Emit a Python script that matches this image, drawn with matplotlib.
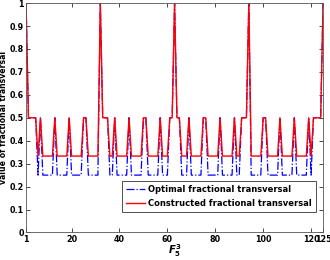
import matplotlib
matplotlib.use("Agg")
import matplotlib.pyplot as plt

# points of F_5^3, indexed 1..125
points = list(range(1, 126))

# constructed fractional transversal (red)
constructed = [
    1, .5, .5, .5, .5, .333, .5, .333, .333, .333,
    .333, .333, .5, .333, .333, .333, .333, .333, .5, .333,
    .333, .333, .333, .333, .5, .5, .333, .333, .333, .333,
    .333, 1, .5, .5, .5, .333, .333, .5, .333, .333,
    .333, .333, .333, .5, .333, .333, .333, .333, .333, .5,
    .5, .333, .333, .333, .333, .333, .5, .333, .333, .333,
    .5, .5, 1, .5, .5, .333, .333, .333, .5, .333,
    .333, .333, .333, .333, .5, .5, .333, .333, .333, .333,
    .333, .5, .333, .333, .333, .333, .333, .5, .333, .333,
    .5, .5, .5, 1, .333, .333, .333, .333, .333, .5,
    .5, .333, .333, .333, .333, .333, .5, .333, .333, .333,
    .333, .333, .5, .333, .333, .333, .333, .333, .5, .333,
    .5, .5, .5, .5, 1,
]

# optimal fractional transversal (blue)
optimal = [
    1, .5, .5, .5, .5, .25, .5, .25, .25, .25,
    .25, .25, .5, .25, .25, .25, .25, .25, .5, .25,
    .25, .25, .25, .25, .5, .5, .25, .25, .25, .25,
    .25, 1, .5, .5, .5, .25, .25, .5, .25, .25,
    .25, .25, .25, .5, .25, .25, .25, .25, .25, .5,
    .5, .25, .25, .25, .25, .25, .5, .25, .25, .25,
    .5, .5, 1, .5, .5, .25, .25, .25, .5, .25,
    .25, .25, .25, .25, .5, .5, .25, .25, .25, .25,
    .25, .5, .25, .25, .25, .25, .25, .5, .25, .25,
    .5, .5, .5, 1, .25, .25, .25, .25, .25, .5,
    .5, .25, .25, .25, .25, .25, .5, .25, .25, .25,
    .25, .25, .5, .25, .25, .25, .25, .25, .5, .25,
    .5, .5, .5, .5, 1,
]

xticks = [1, 20, 40, 60, 80, 100, 120, 125]
yticks = [0, 0.1, 0.2, 0.3, 0.4, 0.5, 0.6, 0.7, 0.8, 0.9, 1]

plt.rcParams['font.family'] = ['DejaVu Sans']
plt.rcParams['font.weight'] = 'bold'

fig = plt.figure(figsize=(3.3, 2.6), dpi=100)
ax = fig.add_axes([0.079, 0.106, 0.900, 0.882])

ax.plot(points, optimal, color='b', linestyle='-.', linewidth=0.9,
        label='Optimal fractional transversal')
ax.plot(points, constructed, color='r', linestyle='-', linewidth=1.0,
        label='Constructed fractional transversal')

ax.set_xlim(1, 125)
ax.set_ylim(0, 1)
ax.set_xticks(xticks)
ax.set_xticklabels([str(t) for t in xticks])
ax.set_yticks(yticks)
ax.set_yticklabels(['0', '0.1', '0.2', '0.3', '0.4', '0.5', '0.6', '0.7', '0.8', '0.9', '1'])
ax.tick_params(direction='in', top=True, right=True, labelsize=5.8, length=3,
               width=0.5, pad=1.5, colors='black')
for s in ax.spines.values():
    s.set_linewidth(0.6)
    s.set_color('#555555')

ax.set_ylabel('value of fractional transversal', fontsize=5.6, fontweight='bold')
ax.yaxis.set_label_coords(-0.061, 0.5)
ax.set_xlabel('$F_5^3$', fontsize=7.2)
ax.xaxis.set_label_coords(0.5, -0.041)

leg = ax.legend(loc='lower right', bbox_to_anchor=(0.99, 0.07), fontsize=6,
                frameon=True, fancybox=False, handlelength=2.2, borderpad=0.5,
                labelspacing=0.6, handletextpad=0.4)
leg.get_frame().set_edgecolor('black')
leg.get_frame().set_linewidth(0.6)

fig.savefig('out.png', dpi=100)
